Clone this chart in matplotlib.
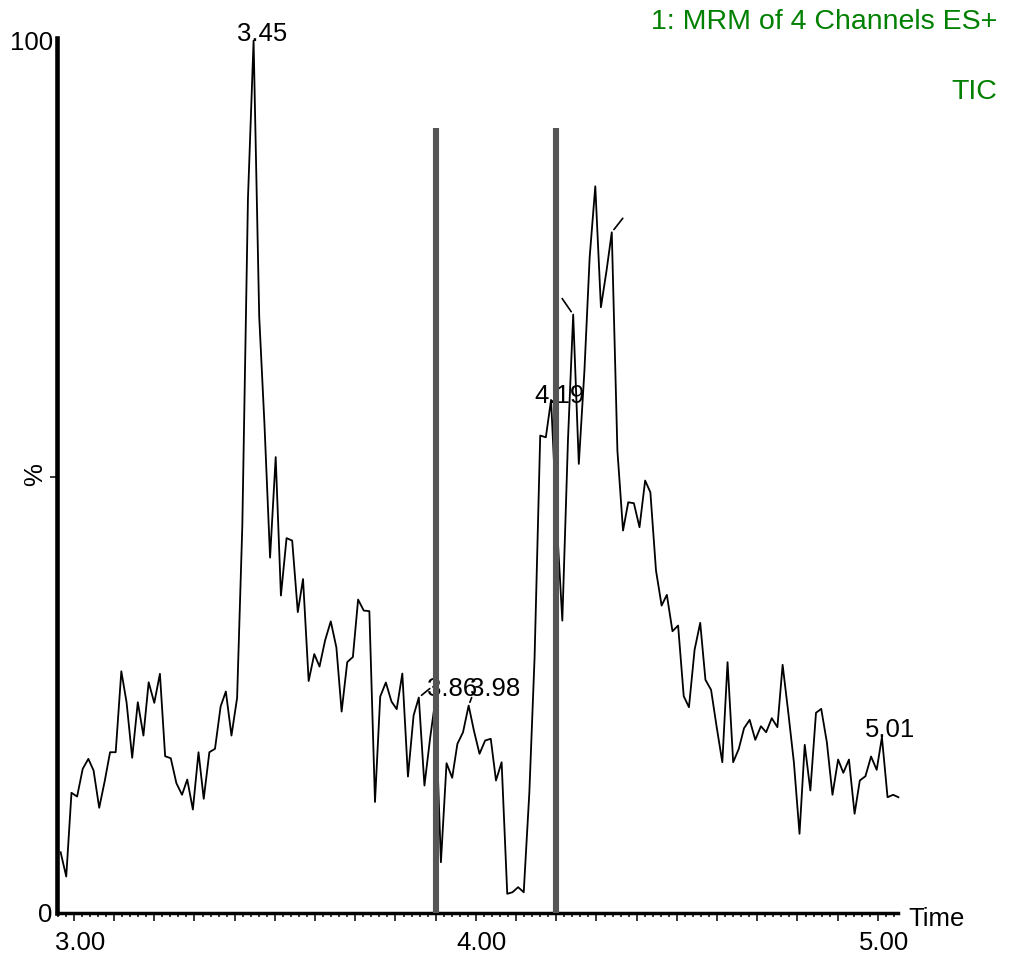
import matplotlib
matplotlib.use("Agg")
import matplotlib.pyplot as plt
import matplotlib.transforms as mtransforms
from matplotlib.ticker import MultipleLocator, FuncFormatter

plt.rcParams['font.family'] = ['Liberation Sans', 'DejaVu Sans']

# retention time (min) of each scan
times = [
    2.967, 2.981, 2.994, 3.008, 3.022, 3.036, 3.049, 3.063, 3.077, 3.090,
    3.104, 3.118, 3.131, 3.145, 3.159, 3.173, 3.186, 3.200, 3.214, 3.227,
    3.241, 3.255, 3.269, 3.282, 3.296, 3.310, 3.323, 3.337, 3.351, 3.365,
    3.378, 3.392, 3.406, 3.419, 3.433, 3.447, 3.461, 3.474, 3.488, 3.502,
    3.515, 3.529, 3.543, 3.557, 3.570, 3.584, 3.598, 3.611, 3.625, 3.639,
    3.653, 3.666, 3.680, 3.694, 3.707, 3.721, 3.735, 3.749, 3.762, 3.776,
    3.790, 3.803, 3.817, 3.831, 3.845, 3.858, 3.872, 3.886, 3.899, 3.913,
    3.927, 3.941, 3.954, 3.968, 3.982, 3.995, 4.009, 4.023, 4.037, 4.050,
    4.064, 4.078, 4.091, 4.105, 4.119, 4.133, 4.146, 4.160, 4.174, 4.187,
    4.201, 4.215, 4.229, 4.242, 4.256, 4.270, 4.283, 4.297, 4.311, 4.325,
    4.338, 4.352, 4.366, 4.379, 4.393, 4.407, 4.421, 4.434, 4.448, 4.462,
    4.475, 4.489, 4.503, 4.517, 4.530, 4.544, 4.558, 4.571, 4.585, 4.599,
    4.613, 4.626, 4.640, 4.654, 4.667, 4.681, 4.695, 4.709, 4.722, 4.736,
    4.750, 4.763, 4.777, 4.791, 4.805, 4.818, 4.832, 4.846, 4.859, 4.873,
    4.887, 4.901, 4.914, 4.928, 4.942, 4.955, 4.969, 4.983, 4.997, 5.010,
    5.024, 5.038, 5.051,
]

# TIC intensity (% of base peak)
tic = [
    6.97, 4.18, 13.78, 13.35, 16.53, 17.67, 16.33, 12.06, 15.19, 18.43,
    18.43, 27.71, 24.16, 17.79, 24.16, 20.34, 26.45, 24.09, 27.42, 17.97,
    17.74, 14.88, 13.55, 15.30, 11.86, 18.43, 13.09, 18.43, 18.82, 23.67,
    25.39, 20.34, 24.66, 44.41, 81.89, 100.0, 68.37, 56.10, 40.74, 52.26,
    36.39, 42.97, 42.69, 34.49, 38.28, 26.59, 29.68, 28.25, 31.27, 33.43,
    30.43, 23.09, 28.76, 29.34, 35.93, 34.67, 34.60, 12.73, 24.81, 26.42,
    24.24, 23.37, 27.45, 15.64, 22.64, 24.70, 14.61, 20.00, 24.36, 5.82,
    17.17, 15.50, 19.39, 20.72, 23.78, 20.92, 18.25, 19.77, 19.97, 15.19,
    17.28, 2.20, 2.38, 2.96, 2.38, 13.85, 29.32, 54.73, 54.53, 58.82,
    44.99, 33.52, 54.15, 68.60, 51.48, 62.18, 75.16, 83.30, 69.43, 73.64,
    78.03, 53.01, 43.84, 47.08, 46.97, 44.22, 49.57, 48.23, 39.26, 35.24,
    36.47, 32.30, 32.95, 24.85, 23.59, 30.17, 33.26, 26.73, 25.58, 21.30,
    17.28, 28.75, 17.28, 18.82, 21.18, 22.14, 19.85, 21.41, 20.72, 22.33,
    21.30, 28.45, 23.01, 17.28, 9.08, 19.28, 14.04, 22.95, 23.40, 19.58,
    13.55, 17.59, 16.07, 17.59, 11.37, 15.19, 15.68, 17.94, 16.41, 20.15,
    13.27, 13.55, 13.27,
]

# labelled peaks
peak_labels = ['3.45', '3.86', '3.98', '4.19', '5.01']
# label offsets in pixels (dx, dy) from the apex
label_dx = [9, 33, 26, 8, 8]
label_dy = [0, 2, 10, -3, 0]
# leader lines: apex time, end offset in pixels
leader_times = [3.858, 3.982, 4.242, 4.338]
leader_dx = [11, 3, -11, 11]
leader_dy = [9, 8, 16, 14]

# integration window markers
marker_times = [3.90, 4.20]
marker_top = 90

title_lines = ['1: MRM of 4 Channels ES+', 'TIC']

W, H = 1013, 956
fig = plt.figure(figsize=(W / 100, H / 100), dpi=100)
ax = fig.add_axes([57 / W, 43 / H, 841 / W, 875 / H])

ax.plot(times, tic, color='black', lw=1.3, zorder=3, clip_on=False)

def nearest(t):
    return min(range(len(times)), key=lambda i: abs(times[i] - t))

for lab, dx, dy in zip(peak_labels, label_dx, label_dy):
    i = nearest(float(lab))
    ax.annotate(lab, xy=(times[i], tic[i]), xytext=(dx, dy),
                textcoords='offset pixels', ha='center', va='baseline',
                fontsize=18.5, zorder=4, annotation_clip=False)

for t, dx, dy in zip(leader_times, leader_dx, leader_dy):
    i = nearest(t)
    ax.annotate('', xy=(times[i], tic[i]), xytext=(dx, dy),
                textcoords='offset pixels',
                arrowprops=dict(arrowstyle='-', color='black', lw=1.2,
                                shrinkA=0, shrinkB=2.5),
                zorder=4)

ax.vlines(marker_times, 0, marker_top, colors='#555555', linewidth=4.4,
          capstyle='butt', zorder=5)

ax.set_xlim(2.958, 5.050)
ax.set_ylim(0, 100.3)

for s in ['top', 'right']:
    ax.spines[s].set_visible(False)
ax.spines['left'].set_linewidth(3.3)
ax.spines['bottom'].set_linewidth(2.5)

ax.xaxis.set_major_locator(MultipleLocator(0.1))
ax.xaxis.set_minor_locator(MultipleLocator(0.02))
ax.xaxis.set_major_formatter(FuncFormatter(
    lambda v, p: f"{v:.2f}" if abs(v - round(v)) < 1e-6 else ""))
ax.tick_params(axis='x', which='major', length=5.8, width=1.1, pad=7,
               labelsize=18.5, direction='out')
ax.tick_params(axis='x', which='minor', length=2.9, width=1.1, direction='out')

ax.set_yticks([0, 100])
ax.set_yticklabels(['0', '100'])
ax.set_yticks([50], minor=True)
ax.tick_params(axis='y', which='major', length=0, pad=3, labelsize=18.5)
ax.tick_params(axis='y', which='minor', length=5, width=1.1, direction='out')

ax.text(-0.0262, 0.5006, '%', transform=ax.transAxes, rotation=90,
        ha='center', va='center', fontsize=18.5)
ax.text(1.012, -0.007, 'Time', transform=ax.transAxes, ha='left',
        va='center', fontsize=18.5)

fig.text(997 / W, 1 - 22 / H, title_lines[0], ha='right', va='center',
         color='#008000', fontsize=20.5)
fig.text(997 / W, 1 - 92 / H, title_lines[1], ha='right', va='center',
         color='#008000', fontsize=20.5)

# time labels sit a few pixels right of their ticks
fig.canvas.draw()
shift = mtransforms.ScaledTranslation(6 / 100, 0, fig.dpi_scale_trans)
for lbl in ax.get_xticklabels():
    lbl.set_transform(lbl.get_transform() + shift)

fig.savefig('out.png', dpi=100)
